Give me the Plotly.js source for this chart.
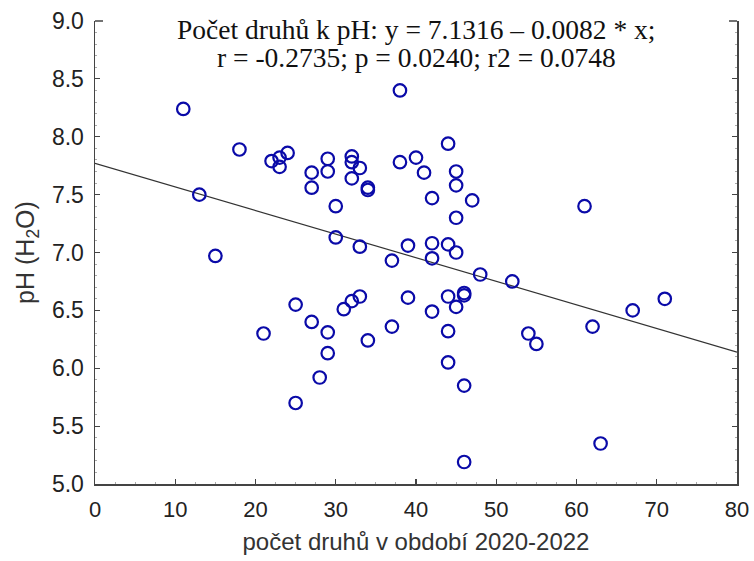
<!DOCTYPE html>
<html>
<head>
<meta charset="utf-8">
<script src="https://cdn.plot.ly/plotly-3.0.1.min.js"></script>
<style>html,body{margin:0;padding:0;background:#fff;}#chart{width:754px;height:561px;}</style>
</head>
<body>
<div id="chart"></div>
<script>
// Species count per site (2020-2022) and soil pH (H2O)
const speciesCount = [11,13,15,18,21,22,23,23,24,25,25,27,27,27,28,29,29,29,29,30,30,31,32,32,32,32,33,33,33,34,34,34,37,37,38,38,39,39,40,41,42,42,42,42,44,44,44,44,44,45,45,45,45,45,46,46,46,46,47,48,52,54,55,61,62,63,67,71];
const phValues = [8.24,7.50,6.97,7.89,6.30,7.79,7.82,7.74,7.86,6.55,5.70,7.69,7.56,6.40,5.92,7.81,7.70,6.31,6.13,7.40,7.13,6.51,7.83,7.78,7.64,6.58,7.73,7.05,6.62,7.56,7.54,6.24,6.93,6.36,8.40,7.78,7.06,6.61,7.82,7.69,7.47,7.08,6.95,6.49,7.94,7.07,6.62,6.32,6.05,7.70,7.58,7.30,7.00,6.53,6.65,6.63,5.85,5.19,7.45,6.81,6.75,6.30,6.21,7.40,6.36,5.35,6.50,6.60];

// Fitted line drawn across the x range
const fitX = [0, 80];
const fitY = [7.77, 6.14];

const xTicks = [0,10,20,30,40,50,60,70,80];
const yTicks = [5.0,5.5,6.0,6.5,7.0,7.5,8.0,8.5,9.0];

const titleLines = ['Počet druhů k pH: y = 7.1316 – 0.0082 * x;', 'r = -0.2735; p = 0.0240; r2 = 0.0748'];
const xTitle = 'počet druhů v období 2020-2022';
const yTitle = 'pH (H<sub>2</sub>O)';

const axisColor = '#444';
const sans = 'Liberation Sans, Arial, sans-serif';
const serif = 'Liberation Serif, Times New Roman, serif';

const traces = [
  {
    x: fitX, y: fitY, type: 'scatter', mode: 'lines',
    line: {color: '#333', width: 1.2}, hoverinfo: 'skip'
  },
  {
    x: speciesCount, y: phValues, type: 'scatter', mode: 'markers',
    marker: {symbol: 'circle-open', size: 12.5, color: '#0a0aa8', line: {color: '#0a0aa8', width: 2.2}}
  }
];

const layout = {
  width: 754, height: 561,
  margin: {l: 95, r: 17, t: 21, b: 77},
  paper_bgcolor: '#fff', plot_bgcolor: '#fff',
  showlegend: false,
  xaxis: {
    range: [0, 80], tickvals: xTicks, ticktext: xTicks.map(String),
    showgrid: false, zeroline: false,
    showline: true, linecolor: axisColor, linewidth: 1.5, mirror: false,
    ticks: 'inside', ticklen: 5, tickwidth: 1.2, tickcolor: axisColor,
    minor: {ticks: 'inside', ticklen: 2, dtick: 2.5, tickcolor: '#aaa', tickwidth: 1},
    tickfont: {family: sans, size: 22, color: '#222'},
    ticklabelstandoff: 5,
    title: {text: xTitle, font: {family: sans, size: 24, color: '#333'}, standoff: 12}
  },
  yaxis: {
    range: [5, 9], tickvals: yTicks, ticktext: yTicks.map(v => v.toFixed(1)),
    showgrid: false, zeroline: false,
    showline: true, linecolor: axisColor, linewidth: 1.5, mirror: 'ticks',
    ticks: 'inside', ticklen: 5, tickwidth: 1.2, tickcolor: axisColor,
    minor: {ticks: 'inside', ticklen: 2, dtick: 0.1, tickcolor: '#aaa', tickwidth: 1},
    tickfont: {family: sans, size: 23, color: '#222'},
    ticklabelstandoff: 5,
    title: {text: yTitle, font: {family: sans, size: 25, color: '#333'}, standoff: 10}
  },
  shapes: [
    {type: 'line', xref: 'x', yref: 'paper', x0: 0, x1: 1, y0: 1, y1: 1, line: {color: axisColor, width: 1.5}},
    {type: 'line', xref: 'x', yref: 'paper', x0: 79, x1: 80, y0: 1, y1: 1, line: {color: axisColor, width: 1.5}}
  ],
  annotations: titleLines.map((t, i) => ({
    text: t, xref: 'paper', yref: 'paper', x: 0.5, y: i === 0 ? 0.981 : 0.922,
    xanchor: 'center', yanchor: 'middle', showarrow: false, align: 'center',
    font: {family: serif, size: 27.5, color: '#111'}
  }))
};

Plotly.newPlot('chart', traces, layout, {displayModeBar: false, staticPlot: true});
</script>
</body>
</html>
